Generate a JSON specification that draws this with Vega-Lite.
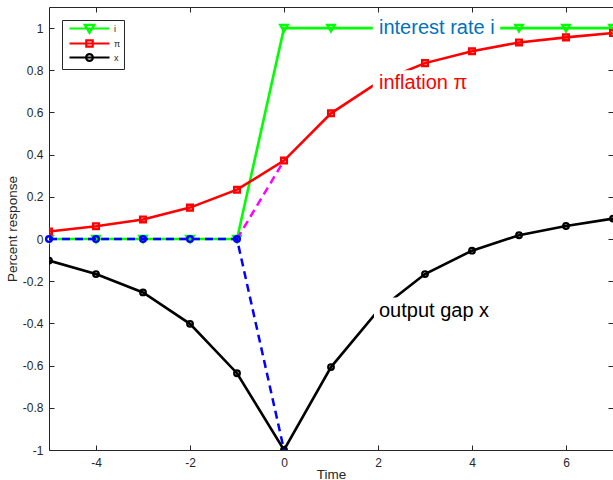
{
  "$schema": "https://vega.github.io/schema/vega-lite/v6.json",
  "width": 564,
  "height": 443,
  "autosize": {"type": "none"},
  "padding": {"left": 49, "top": 7, "right": 0, "bottom": 30},
  "background": "white",
  "config": {
    "view": {"stroke": "#262626", "strokeWidth": 1},
    "font": "Liberation Sans",
    "axis": {
      "labelFont": "Liberation Sans", "labelFontSize": 12, "labelColor": "#262626",
      "titleFont": "Liberation Sans", "titleFontSize": 13.5, "titleFontWeight": "normal", "titleColor": "#262626",
      "tickColor": "#262626", "grid": false, "domain": false, "tickSize": -5
    }
  },
  "datasets": {
    "main": [
      {"t": -5, "s": "i", "v": 0}, {"t": -4, "s": "i", "v": 0}, {"t": -3, "s": "i", "v": 0}, {"t": -2, "s": "i", "v": 0}, {"t": -1, "s": "i", "v": 0},
      {"t": 0, "s": "i", "v": 1}, {"t": 1, "s": "i", "v": 1}, {"t": 2, "s": "i", "v": 1}, {"t": 3, "s": "i", "v": 1}, {"t": 4, "s": "i", "v": 1},
      {"t": 5, "s": "i", "v": 1}, {"t": 6, "s": "i", "v": 1}, {"t": 7, "s": "i", "v": 1},
      {"t": -5, "s": "π", "v": 0.036}, {"t": -4, "s": "π", "v": 0.061}, {"t": -3, "s": "π", "v": 0.093}, {"t": -2, "s": "π", "v": 0.149}, {"t": -1, "s": "π", "v": 0.234},
      {"t": 0, "s": "π", "v": 0.372}, {"t": 1, "s": "π", "v": 0.596}, {"t": 2, "s": "π", "v": 0.742}, {"t": 3, "s": "π", "v": 0.834}, {"t": 4, "s": "π", "v": 0.89},
      {"t": 5, "s": "π", "v": 0.932}, {"t": 6, "s": "π", "v": 0.956}, {"t": 7, "s": "π", "v": 0.977},
      {"t": -5, "s": "x", "v": -0.102}, {"t": -4, "s": "x", "v": -0.166}, {"t": -3, "s": "x", "v": -0.253}, {"t": -2, "s": "x", "v": -0.402}, {"t": -1, "s": "x", "v": -0.636},
      {"t": 0, "s": "x", "v": -1}, {"t": 1, "s": "x", "v": -0.607}, {"t": 2, "s": "x", "v": -0.34}, {"t": 3, "s": "x", "v": -0.166}, {"t": 4, "s": "x", "v": -0.055},
      {"t": 5, "s": "x", "v": 0.018}, {"t": 6, "s": "x", "v": 0.062}, {"t": 7, "s": "x", "v": 0.097}
    ],
    "blue": [
      {"t": -5, "v": 0}, {"t": -4, "v": 0}, {"t": -3, "v": 0}, {"t": -2, "v": 0}, {"t": -1, "v": 0}, {"t": 0, "v": -1}
    ],
    "magenta": [
      {"t": -1, "v": 0}, {"t": 0, "v": 0.372}
    ],
    "boxes": [
      {"x1": 1.89, "x2": 4.6, "y1": 0.935, "y2": 1.065},
      {"x1": 1.89, "x2": 3.97, "y1": 0.685, "y2": 0.8},
      {"x1": 1.915, "x2": 4.47, "y1": -0.4, "y2": -0.277}
    ],
    "labels": [
      {"t": 2, "v": 1, "s": "i", "txt": "interest rate i"},
      {"t": 2, "v": 0.742, "s": "π", "txt": "inflation π"},
      {"t": 2, "v": -0.34, "s": "x", "txt": "output gap x"}
    ]
  },
  "resolve": {"axis": {"x": "independent", "y": "independent"}},
  "layer": [
    {
      "data": {"name": "main"},
      "mark": {"type": "line", "strokeWidth": 2.6, "clip": true},
      "encoding": {
        "x": {"field": "t", "type": "quantitative", "scale": {"domain": [-5, 7], "nice": false},
              "axis": {"title": "Time", "values": [-4, -2, 0, 2, 4, 6], "labelExpr": "'' + datum.value", "labelPadding": 12, "titlePadding": -1}},
        "y": {"field": "v", "type": "quantitative", "scale": {"domain": [-1, 1.1], "nice": false},
              "axis": {"title": "Percent response", "values": [-1, -0.8, -0.6, -0.4, -0.2, 0, 0.2, 0.4, 0.6, 0.8, 1], "labelExpr": "'' + datum.value", "labelPadding": 11, "titlePadding": 3}},
        "color": {"field": "s", "type": "nominal", "scale": {"domain": ["i", "π", "x"], "range": ["#00FF00", "#FF0000", "#000000"]},
                  "legend": {"orient": "none", "legendX": 13, "legendY": 13, "title": null, "padding": 3, "strokeColor": "#262626", "fillColor": "white",
                             "symbolType": "M-5,0H5", "symbolSize": 64, "symbolStrokeWidth": 2, "symbolOffset": 19, "labelOffset": 19, "rowPadding": -6.8,
                             "symbolFillColor": "transparent",
                             "labelFontSize": 9, "symbolOpacity": 1, "labelFont": "Liberation Sans", "labelColor": "#262626",
                             "encode": {"symbols": {"update": {
                               "shape": {"signal": "datum.value === 'i' ? 'M-5,0H5M-1.2,-0.9H1.2L0,1.1Z' : datum.value === 'x' ? 'M-5,0H5M-0.85,0A0.85,0.85,0,1,1,0.85,0A0.85,0.85,0,1,1,-0.85,0' : 'M-5,0H5M-0.8,-0.8H0.8V0.8H-0.8Z'"},
                               "fill": {"value": "transparent"},
                               "fillOpacity": {"value": 0},
                               "strokeWidth": {"value": 2.2}
                             }}}}}
      }
    },
    {
      "mark": {"type": "rule", "color": "#262626", "strokeWidth": 1},
      "encoding": {
        "x": {"datum": -5, "type": "quantitative", "scale": {"domain": [-5, 7], "nice": false},
              "axis": {"orient": "top", "labels": false, "title": null, "values": [-4, -2, 0, 2, 4, 6]}},
        "x2": {"datum": 7},
        "y": {"datum": 0, "type": "quantitative", "scale": {"domain": [-1, 1.1], "nice": false},
              "axis": {"orient": "right", "labels": false, "title": null, "values": [-1, -0.8, -0.6, -0.4, -0.2, 0, 0.2, 0.4, 0.6, 0.8, 1]}}
      }
    },
    {
      "data": {"name": "main"},
      "transform": [{"filter": "datum.s == 'i'"}],
      "mark": {"type": "point", "shape": "triangle-down", "filled": false, "color": "#00FF00", "strokeWidth": 2.4, "size": 55, "clip": true, "opacity": 1},
      "encoding": {
        "x": {"field": "t", "type": "quantitative", "axis": null},
        "y": {"field": "v", "type": "quantitative", "axis": null}
      }
    },
    {
      "data": {"name": "main"},
      "transform": [{"filter": "datum.s == 'π'"}],
      "mark": {"type": "point", "shape": "square", "filled": false, "color": "#FF0000", "strokeWidth": 2.4, "size": 32, "clip": true, "opacity": 1},
      "encoding": {
        "x": {"field": "t", "type": "quantitative", "axis": null},
        "y": {"field": "v", "type": "quantitative", "axis": null}
      }
    },
    {
      "data": {"name": "main"},
      "transform": [{"filter": "datum.s == 'x'"}],
      "mark": {"type": "point", "shape": "circle", "filled": false, "color": "#000000", "strokeWidth": 2.2, "size": 32, "clip": true, "opacity": 1},
      "encoding": {
        "x": {"field": "t", "type": "quantitative", "axis": null},
        "y": {"field": "v", "type": "quantitative", "axis": null}
      }
    },
    {
      "data": {"name": "magenta"},
      "mark": {"type": "line", "color": "#FF00FF", "strokeWidth": 2.5, "strokeDash": [8, 5]},
      "encoding": {
        "x": {"field": "t", "type": "quantitative", "axis": null},
        "y": {"field": "v", "type": "quantitative", "axis": null}
      }
    },
    {
      "data": {"name": "blue"},
      "mark": {"type": "line", "color": "#0000FF", "strokeWidth": 2.5, "strokeDash": [8, 5]},
      "encoding": {
        "x": {"field": "t", "type": "quantitative", "axis": null},
        "y": {"field": "v", "type": "quantitative", "axis": null}
      }
    },
    {
      "data": {"name": "blue"},
      "transform": [{"filter": "datum.t < 0"}],
      "mark": {"type": "point", "shape": "circle", "filled": false, "color": "#0000FF", "strokeWidth": 2.4, "size": 32, "opacity": 1},
      "encoding": {
        "x": {"field": "t", "type": "quantitative", "axis": null},
        "y": {"field": "v", "type": "quantitative", "axis": null}
      }
    },
    {
      "data": {"name": "boxes"},
      "mark": {"type": "rect", "color": "white"},
      "encoding": {
        "x": {"field": "x1", "type": "quantitative", "axis": null},
        "x2": {"field": "x2"},
        "y": {"field": "y1", "type": "quantitative", "axis": null},
        "y2": {"field": "y2"}
      }
    },
    {
      "data": {"name": "labels"},
      "mark": {"type": "text", "align": "left", "baseline": "middle", "fontSize": 20, "font": "Liberation Sans", "dx": 1},
      "encoding": {
        "x": {"field": "t", "type": "quantitative", "axis": null},
        "y": {"field": "v", "type": "quantitative", "axis": null},
        "text": {"field": "txt"},
        "fill": {"field": "s", "type": "nominal", "scale": {"domain": ["i", "π", "x"], "range": ["#0072BD", "#FF0000", "#000000"]}, "legend": null}
      }
    }
  ]
}
